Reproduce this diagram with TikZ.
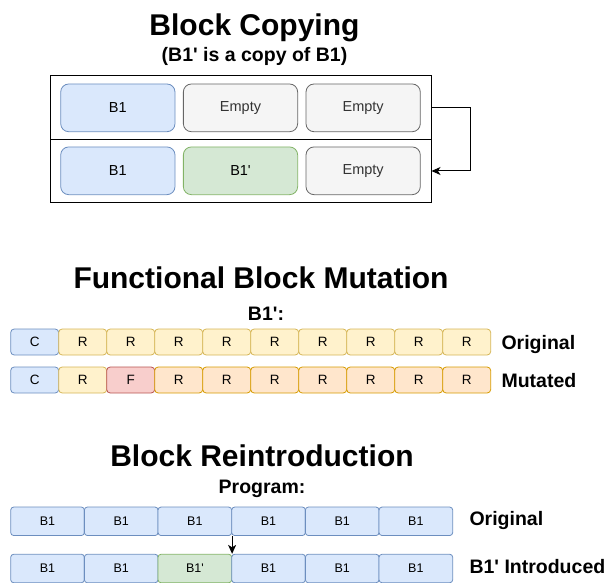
\documentclass[tikz,border=0pt]{standalone}
\usepackage{fontspec}
\setmainfont{Liberation Sans}
\newfontfamily\lib{Liberation Sans}
\usetikzlibrary{arrows.meta}
\definecolor{bfill}{HTML}{DAE8FC}\definecolor{bdraw}{HTML}{6C8EBF}
\definecolor{gfill}{HTML}{D5E8D4}\definecolor{gdraw}{HTML}{82B366}
\definecolor{efill}{HTML}{F5F5F5}\definecolor{edraw}{HTML}{666666}
\definecolor{etext}{HTML}{333333}
\definecolor{yfill}{HTML}{FFF2CC}\definecolor{ydraw}{HTML}{D6B656}
\definecolor{ofill}{HTML}{FFE6CC}\definecolor{odraw}{HTML}{D79B00}
\definecolor{rfill}{HTML}{F8CECC}\definecolor{rdraw}{HTML}{B85450}
\tikzset{
  title/.style={font=\lib\fontsize{30}{36}\selectfont\bfseries, anchor=base},
  sub/.style={font=\lib\fontsize{19.5}{23}\selectfont\bfseries, anchor=base},
  lab/.style={font=\lib\fontsize{19.5}{23}\selectfont\bfseries, anchor=base west},
  bigbox/.style={draw, line width=0.8pt, rounded corners=8pt, minimum width=114.3pt, minimum height=47.7pt, inner sep=0pt, font=\lib\fontsize{14.5}{17}\selectfont},
  midcell/.style={draw, line width=0.8pt, rounded corners=3.5pt, minimum width=48pt, minimum height=26pt, inner sep=0pt, font=\lib\fontsize{13.5}{16}\selectfont},
  botcell/.style={draw, line width=0.8pt, rounded corners=3pt, minimum width=73.67pt, minimum height=28.5pt, inner sep=0pt, font=\lib\fontsize{12.5}{15}\selectfont},
  blue/.style={fill=bfill, draw=bdraw},
  green/.style={fill=gfill, draw=gdraw},
  empty/.style={fill=efill, draw=edraw, text=etext},
  yel/.style={fill=yfill, draw=ydraw},
  ora/.style={fill=ofill, draw=odraw},
  red/.style={fill=rfill, draw=rdraw},
  frame/.style={draw, line width=1pt, minimum width=380.3pt, minimum height=63.6pt, inner sep=0pt},
  conn/.style={draw, line width=1pt, -{Stealth[length=9pt,width=8pt,inset=2.5pt]}}
}
\begin{document}
\begin{tikzpicture}[x=1pt,y=-1pt]
\useasboundingbox (0,0) rectangle (608,583);
% ---- Block Copying
\node[title] (t1) at (254.5,36) {Block Copying};
\node[sub] (s1) at (254.5,61.7) {(B1' is a copy of B1)};
\node[frame] (r1) at (240.85,107.5) {};
\node[frame] (r2) at (240.85,171) {};
\node[bigbox,blue] (a1) at (117.85,107.85) {B1};
\node[bigbox,empty] (a2) at (240.5,107.85) {Empty};
\node[bigbox,empty] (a3) at (363.15,107.85) {Empty};
\node[bigbox,blue] (b1) at (117.85,170.8) {B1};
\node[bigbox,green] (b2) at (240.5,170.8) {B1'};
\node[bigbox,empty] (b3) at (363.15,170.8) {Empty};
\draw[conn] (r1.east) -- ++(39,0) |- (r2.east);
% ---- Functional Block Mutation
\node[title] (t2) at (261,288.3) {Functional Block Mutation};
\node[sub] (s2) at (266,320.7) {B1':};
\foreach \i/\t/\s in {0/C/blue,1/R/yel,2/R/yel,3/R/yel,4/R/yel,5/R/yel,6/R/yel,7/R/yel,8/R/yel,9/R/yel}{
  \node[midcell,\s] (m\i) at (34.7+48*\i,342) {\t};
}
\foreach \i/\t/\s in {0/C/blue,1/R/yel,2/F/red,3/R/ora,4/R/ora,5/R/ora,6/R/ora,7/R/ora,8/R/ora,9/R/ora}{
  \node[midcell,\s] (n\i) at (34.7+48*\i,380) {\t};
}
\node[lab] (l1) at (498,349) {Original};
\node[lab] (l2) at (498,387) {Mutated};
% ---- Block Reintroduction
\node[title] (t3) at (262,466.7) {Block Reintroduction};
\node[sub] (s3) at (262,493.3) {Program:};
\foreach \i in {0,...,5}{
  \node[botcell,blue] (p\i) at (47.53+73.67*\i,521.3) {B1};
}
\foreach \i/\t/\s in {0/B1/blue,1/B1/blue,2/B1'/green,3/B1/blue,4/B1/blue,5/B1/blue}{
  \node[botcell,\s] (q\i) at (47.53+73.67*\i,568.5) {\t};
}
\node[lab] (l3) at (466,525) {Original};
\node[lab] (l4) at (466,573.3) {B1' Introduced};
\draw[conn] (p2.south east) -- (q2.north east);
\end{tikzpicture}
\end{document}
